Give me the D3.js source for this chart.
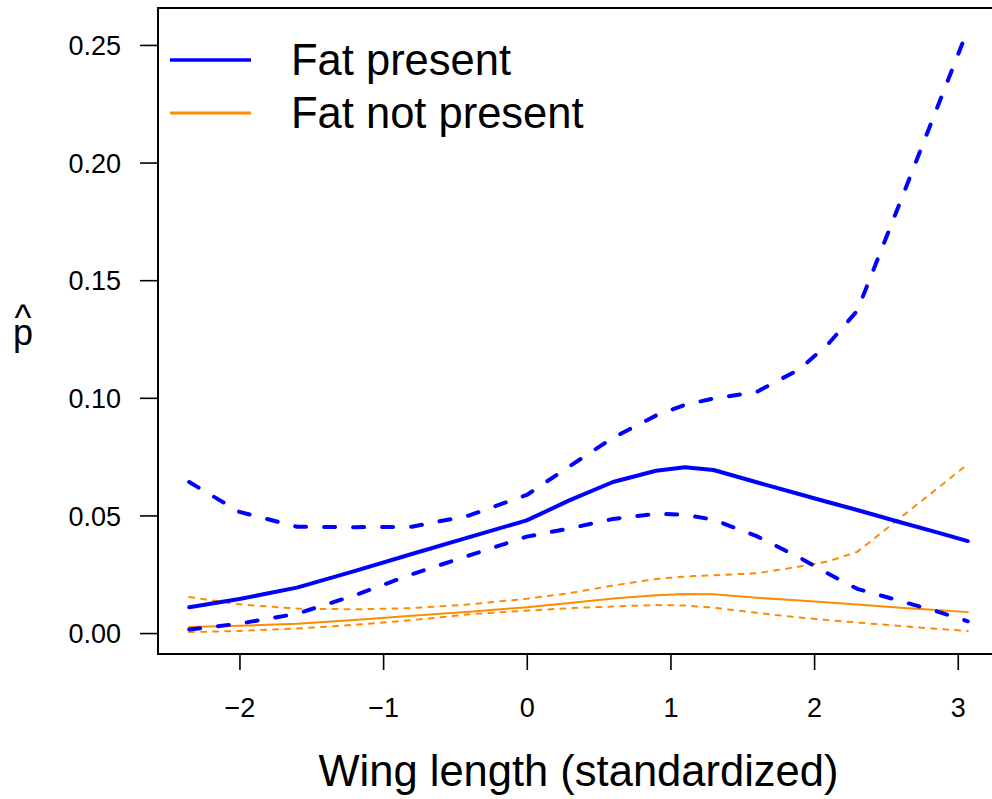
<!DOCTYPE html>
<html>
<head>
<meta charset="utf-8">
<script src="https://cdn.jsdelivr.net/npm/d3@7"></script>
<style>
    body { margin: 0; background: #fff; }
    text { font-family: "Liberation Sans", Arial, sans-serif; fill: #000; }
</style>
</head>
<body>
<div id="chart"></div>
<script>

// values (wing length vs estimated probability)
var xGrid      = [-2.35, -2.0, -1.6, -1.2, -0.8, -0.4, 0, 0.3, 0.6, 0.9, 1.1, 1.3, 1.6, 1.9, 2.1, 2.3, 2.6, 2.85, 3.07];

var fatFit     = [0.0110, 0.0145, 0.0193, 0.0263, 0.0336, 0.0408, 0.0479, 0.0565, 0.0642, 0.0690, 0.0705, 0.0693, 0.0641, 0.0590, 0.0556, 0.0523, 0.0471, 0.0429, 0.0391];
var fatUpper   = [0.0642, 0.0515, 0.0452, 0.0450, 0.0452, 0.0500, 0.0587, 0.0710, 0.0830, 0.0925, 0.0970, 0.0997, 0.1025, 0.1122, 0.1230, 0.1370, 0.1833, 0.2223, 0.2565];
var fatLower   = [0.0015, 0.0040, 0.0082, 0.0160, 0.0250, 0.0330, 0.0410, 0.0445, 0.0485, 0.0507, 0.0503, 0.0482, 0.0412, 0.0320, 0.0252, 0.0188, 0.0136, 0.0093, 0.0050];

var noFatFit   = [0.0026, 0.0031, 0.0040, 0.0056, 0.0074, 0.0091, 0.0110, 0.0128, 0.0147, 0.0161, 0.0166, 0.0165, 0.0150, 0.0138, 0.0130, 0.0121, 0.0108, 0.0098, 0.0089];
var noFatUpper = [0.0153, 0.0122, 0.0104, 0.0101, 0.0106, 0.0122, 0.0146, 0.0170, 0.0202, 0.0230, 0.0240, 0.0246, 0.0254, 0.0283, 0.0305, 0.0345, 0.0490, 0.0611, 0.0718];
var noFatLower = [0.0004, 0.0009, 0.0019, 0.0035, 0.0055, 0.0080, 0.0095, 0.0106, 0.0113, 0.0119, 0.0117, 0.0108, 0.0086, 0.0066, 0.0055, 0.0045, 0.0030, 0.0018, 0.0009];

var xTicks = [-2, -1, 0, 1, 2, 3];
var yTicks = [0, 0.05, 0.10, 0.15, 0.20, 0.25];
var legendLabels = ["Fat present", "Fat not present"];
var legendColors = ["#0000ff", "#ff8c00"];

var width = 992, height = 799;
var box = { left: 158, right: 999, top: 8, bottom: 654 };

var svg = d3.select("#chart").append("svg")
    .attr("width", width)
    .attr("height", height);

var x = d3.scaleLinear()
    .domain([-2.567, 3.287])
    .range([box.left, box.right]);

var y = d3.scaleLinear()
    .domain([-0.0089, 0.2657])
    .range([box.bottom, box.top]);

// axes
var xAxis = svg.append("g")
    .attr("transform", "translate(0," + box.bottom + ")")
    .call(d3.axisBottom(x).tickValues(xTicks).tickSize(16).tickFormat(d3.format("d")));

xAxis.select(".domain").remove();
xAxis.selectAll("line").attr("stroke", "#000").attr("stroke-width", 1.6);
xAxis.selectAll("text")
    .attr("y", 63)
    .attr("dy", null)
    .style("font-size", "27px")
    .attr("font-family", null);

var yAxis = svg.append("g")
    .attr("transform", "translate(" + box.left + ",0)")
    .call(d3.axisLeft(y).tickValues(yTicks).tickSize(18).tickFormat(d3.format(".2f")));

yAxis.select(".domain").remove();
yAxis.selectAll("line").attr("stroke", "#000").attr("stroke-width", 1.6);
yAxis.selectAll("text")
    .attr("x", -37)
    .attr("dy", "0.36em")
    .style("font-size", "27px")
    .attr("font-family", null);

// plot box
svg.append("rect")
    .attr("x", box.left)
    .attr("y", box.top)
    .attr("width", box.right - box.left)
    .attr("height", box.bottom - box.top)
    .attr("fill", "none")
    .attr("stroke", "#000")
    .attr("stroke-width", 2);

// curves
var line = d3.line()
    .x(function(d) { return x(d[0]); })
    .y(function(d) { return y(d[1]); });

var series = [
    { values: noFatLower, color: legendColors[1], width: 2, dash: "5,7" },
    { values: noFatUpper, color: legendColors[1], width: 2, dash: "5,7" },
    { values: noFatFit,   color: legendColors[1], width: 2, dash: null },
    { values: fatLower,   color: legendColors[0], width: 4, dash: "11,18" },
    { values: fatUpper,   color: legendColors[0], width: 4, dash: "11,18" },
    { values: fatFit,     color: legendColors[0], width: 4, dash: null }
];

svg.selectAll("path.curve")
    .data(series)
    .enter()
    .append("path")
    .attr("class", "curve")
    .attr("d", function(s) { return line(d3.zip(xGrid, s.values)); })
    .attr("fill", "none")
    .attr("stroke", function(s) { return s.color; })
    .attr("stroke-width", function(s) { return s.width; })
    .attr("stroke-dasharray", function(s) { return s.dash; })
    .attr("stroke-linecap", "round")
    .attr("stroke-linejoin", "round");

// legend
var legend = svg.selectAll("g.legend")
    .data(legendLabels)
    .enter()
    .append("g")
    .attr("class", "legend")
    .attr("transform", function(d, i) { return "translate(0," + (60 + i * 53) + ")"; });

legend.append("line")
    .attr("x1", 170)
    .attr("x2", 251)
    .attr("stroke", function(d, i) { return legendColors[i]; })
    .attr("stroke-width", function(d, i) { return i === 0 ? 3.5 : 3; });

legend.append("text")
    .attr("x", 291)
    .attr("y", 15)
    .style("font-size", "43.5px")
    .text(function(d) { return d; });

// axis titles
svg.append("text")
    .attr("x", (box.left + box.right) / 2)
    .attr("y", 786)
    .attr("text-anchor", "middle")
    .style("font-size", "43.5px")
    .text("Wing length (standardized)");

// p-hat: the hat sits in its own tspan above the p
var ylab = svg.append("text")
    .attr("text-anchor", "middle")
    .style("font-size", "36px");

ylab.append("tspan")
    .attr("x", 23)
    .attr("y", 330)
    .text("^");

ylab.append("tspan")
    .attr("x", 23)
    .attr("y", 345)
    .text("p");

</script>
</body>
</html>
